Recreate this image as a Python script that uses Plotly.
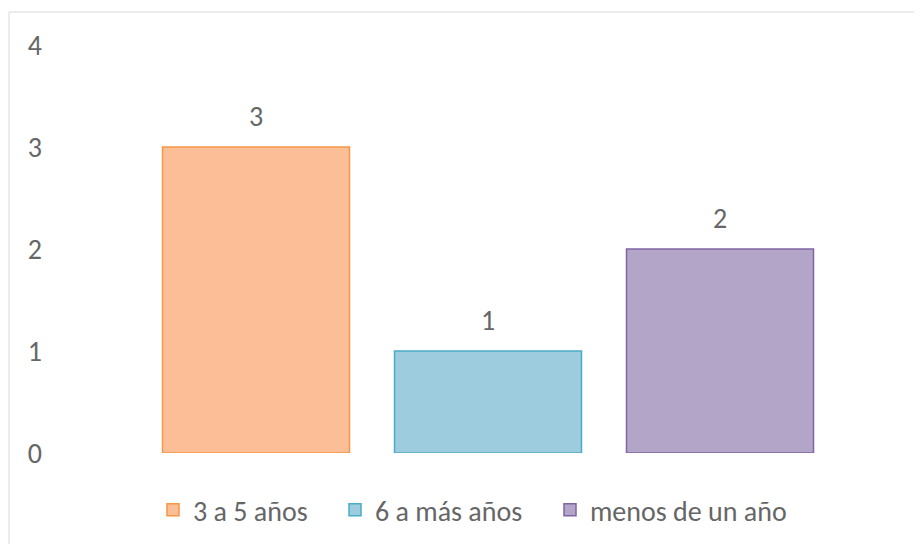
import plotly.graph_objects as go

# datos
categorias = ['3 a 5 años', '6 a más años', 'menos de un año']
valores = [3, 1, 2]
relleno = ['#FBBE97', '#9CCCDD', '#B3A5C8']
borde = ['#F79646', '#4BACC6', '#8064A2']

W, H = 922, 544
leyendas = ['legend', 'legend2', 'legend3']
ley_x = [145, 327, 542]  # borde izquierdo de cada leyenda, px

fig = go.Figure()

for cat, val, fc, bc, ley in zip(categorias, valores, relleno, borde, leyendas):
    fig.add_trace(go.Bar(x=[cat], y=[val], name=cat, width=0.806, legend=ley,
                         marker=dict(color=fc, line=dict(color=bc, width=1.5))))
    # etiqueta de datos
    fig.add_annotation(x=cat, y=val, text=str(val), showarrow=False,
                       yanchor='bottom', yshift=11,
                       font=dict(size=28, color='#666666'))

# marco del gráfico (la página desplaza la figura 8 px)
ml, mr, mt, mb = 42, 94, 37, 99
pw, ph = W - ml - mr, H - mt - mb
fig.add_shape(type='rect', xref='paper', yref='paper',
              x0=(1 - ml) / pw, x1=(913 - ml) / pw,
              y0=(H - mb - 540) / ph, y1=(H - mb - 4) / ph,
              line=dict(color='#D9D9D9', width=1), layer='below')

ley_cfg = {}
for ley, lx in zip(leyendas, ley_x):
    ley_cfg[ley] = dict(orientation='h', xref='container', yref='container',
                        x=lx / W, y=0.077, xanchor='left', yanchor='middle',
                        font=dict(size=28, color='#666666'), itemwidth=30,
                        bgcolor='rgba(0,0,0,0)')

fig.update_layout(
    width=W, height=H,
    margin=dict(l=ml, r=mr, t=mt, b=mb),
    barmode='overlay',
    plot_bgcolor='white', paper_bgcolor='white',
    font=dict(family='Carlito, Calibri, Lato, sans-serif', size=28, color='#666666'),
    showlegend=True,
    xaxis=dict(range=[-0.888, 2.5], showticklabels=False, showline=False,
               showgrid=False, zeroline=False),
    yaxis=dict(range=[0, 4], dtick=1, showgrid=False, zeroline=False,
               showline=False, ticklabelstandoff=7,
               tickfont=dict(size=28, color='#666666')),
    **ley_cfg,
)

fig.write_html("out.html")
